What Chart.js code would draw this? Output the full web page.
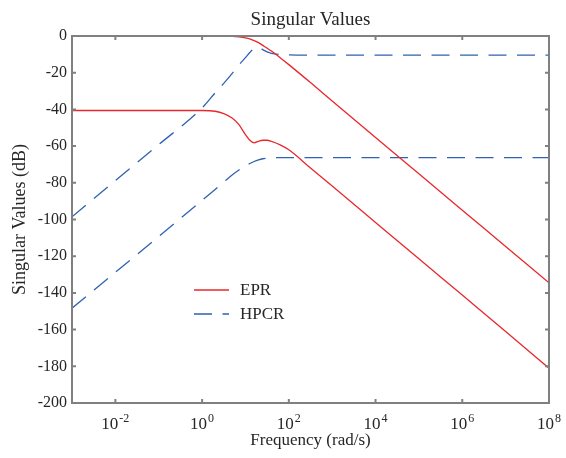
<!DOCTYPE html>
<html><head><meta charset="utf-8">
<script src="https://cdn.jsdelivr.net/npm/chart.js@4/dist/chart.umd.min.js"></script>
<style>html,body{margin:0;padding:0;background:#fff}canvas{display:block}</style>
</head><body>
<canvas id="c" width="566" height="458"></canvas>
<script>
// Frequencies (rad/s)
const freq = [1e-3, 1e-2, 1e-1, 1, 2, 3.16, 5.01, 7.08, 10, 12.6, 15.8, 20, 25.1, 31.6, 39.8, 63.1, 100, 316, 1e3, 1e4, 1e5, 1e6, 1e7, 1e8];
// Singular values (dB)
const eprSigma1  = [0, 0, 0, 0, -0.05, -0.1, -0.2, -0.5, -1.0, -1.6, -2.5, -3.6, -5.1, -6.6, -8.2, -11.8, -15.6, -25.4, -35.4, -55.3, -75.1, -94.9, -114.7, -134.5];
const eprSigma2  = [-40.6, -40.6, -40.6, -40.6, -41, -42.3, -44.8, -48.3, -53.8, -56.8, -58.2, -57.4, -56.8, -56.8, -57.4, -59.3, -62.0, -71.9, -81.8, -101.6, -121.4, -141.2, -161.0, -181.0];
const hpcrSigma1 = [-98.5, -78.8, -59.2, -39.2, -31, -25.8, -20.2, -15.8, -11.8, -9.0, -6.9, -6.3, -7.4, -8.7, -9.5, -10.1, -10.3, -10.4, -10.4, -10.4, -10.4, -10.4, -10.4, -10.4];
const hpcrSigma2 = [-148.3, -128.8, -109.3, -89.6, -83.6, -79.6, -75.6, -73.0, -70.8, -69.5, -68.4, -67.5, -66.9, -66.6, -66.4, -66.3, -66.3, -66.3, -66.3, -66.3, -66.3, -66.3, -66.3, -66.3];

// x ticks: base "10" with exponent
const xTickValues = [1e-2, 1, 1e2, 1e4, 1e6, 1e8];
const xTickBase = '10';
const xTickExponents = ['-2', '0', '2', '4', '6', '8'];
const yTickValues = [0, -20, -40, -60, -80, -100, -120, -140, -160, -180, -200];
const chartTitle = 'Singular Values';

const RED = '#e8282c';
const BLUE = '#2f62b0';
const TEXT = '#262626';
const FONT = "'Liberation Serif', 'DejaVu Serif', serif";

function pts(ys) { return freq.map((f, i) => ({ x: f, y: ys[i] })); }

const framePlugin = {
  id: 'frame',
  afterDraw(chart) {
    const { ctx, chartArea: a, scales } = chart;
    ctx.save();
    ctx.strokeStyle = '#808080';
    ctx.lineWidth = 2;
    ctx.beginPath();
    const tl = 4;
    xTickValues.forEach(v => {
      const px = scales.x.getPixelForValue(v);
      ctx.moveTo(px, a.bottom); ctx.lineTo(px, a.bottom - tl);
      ctx.moveTo(px, a.top); ctx.lineTo(px, a.top + tl);
    });
    yTickValues.forEach(v => {
      const py = scales.y.getPixelForValue(v);
      ctx.moveTo(a.left, py); ctx.lineTo(a.left + tl, py);
      ctx.moveTo(a.right, py); ctx.lineTo(a.right - tl, py);
    });
    ctx.stroke();
    ctx.strokeRect(a.left, a.top, a.right - a.left, a.bottom - a.top);

    // title centred over the plot area
    ctx.fillStyle = TEXT;
    ctx.font = '19px ' + FONT;
    ctx.textAlign = 'center';
    ctx.textBaseline = 'alphabetic';
    ctx.fillText(chartTitle, (a.left + a.right) / 2, 25);

    // x tick labels with superscript exponents
    ctx.textAlign = 'left';
    const baseFont = '17px ' + FONT, expFont = '12px ' + FONT;
    xTickValues.forEach((v, i) => {
      const px = scales.x.getPixelForValue(v);
      ctx.font = baseFont;
      const wb = ctx.measureText(xTickBase).width;
      ctx.font = expFont;
      const we = ctx.measureText(xTickExponents[i]).width;
      const x0 = px - (wb + we + 1) / 2;
      ctx.font = baseFont;
      ctx.fillText(xTickBase, x0, a.bottom + 26);
      ctx.font = expFont;
      ctx.fillText(xTickExponents[i], x0 + wb + 1, a.bottom + 19);
    });

    // legend
    const items = [chart.data.datasets[0], chart.data.datasets[2]];
    const lx = a.left + 122, ly = a.top + 254, gap = 24;
    ctx.font = '17px ' + FONT;
    ctx.textBaseline = 'middle';
    items.forEach((ds, i) => {
      const y = ly + i * gap;
      ctx.beginPath();
      ctx.strokeStyle = ds.borderColor;
      ctx.lineWidth = 1.5;
      ctx.setLineDash(ds.borderDash || []);
      ctx.moveTo(lx, y); ctx.lineTo(lx + 35, y);
      ctx.stroke();
      ctx.setLineDash([]);
      ctx.fillText(ds.label, lx + 46, y + 1);
    });
    ctx.restore();
  }
};

const common = { pointRadius: 0, borderWidth: 1.3, fill: false, cubicInterpolationMode: 'monotone' };

new Chart(document.getElementById('c'), {
  type: 'line',
  data: {
    datasets: [
      { label: 'EPR', data: pts(eprSigma1), borderColor: RED, ...common },
      { label: 'EPR', data: pts(eprSigma2), borderColor: RED, ...common },
      { label: 'HPCR', data: pts(hpcrSigma1), borderColor: BLUE, borderDash: [18, 10.5], ...common },
      { label: 'HPCR', data: pts(hpcrSigma2), borderColor: BLUE, borderDash: [18, 10.5], ...common }
    ]
  },
  options: {
    responsive: false,
    animation: false,
    devicePixelRatio: 1,
    layout: { padding: { left: 0, right: 17, top: 36, bottom: 0 } },
    plugins: {
      legend: { display: false },
      tooltip: { enabled: false },
      title: { display: false }
    },
    scales: {
      x: {
        type: 'logarithmic', min: 1e-3, max: 1e8,
        grid: { display: false, drawTicks: false }, border: { display: false },
        afterBuildTicks: s => { s.ticks = xTickValues.map(v => ({ value: v })); },
        afterFit: s => { s.height = 55; },
        ticks: { display: false },
        title: {
          display: true, text: 'Frequency (rad/s)', color: TEXT,
          font: { family: FONT, size: 17, lineHeight: 1.2 },
          padding: { top: 0, bottom: 7 }
        }
      },
      y: {
        type: 'linear', min: -200, max: 0,
        grid: { display: false, drawTicks: false }, border: { display: false },
        afterBuildTicks: s => { s.ticks = yTickValues.map(v => ({ value: v })); },
        afterFit: s => { s.width = 72; },
        ticks: { color: TEXT, padding: 5, font: { family: FONT, size: 16 } },
        title: {
          display: true, text: 'Singular Values (dB)', color: TEXT,
          font: { family: FONT, size: 18, lineHeight: 1.2 },
          padding: { top: 9, bottom: 0 }
        }
      }
    }
  },
  plugins: [framePlugin]
});
</script>
</body></html>
